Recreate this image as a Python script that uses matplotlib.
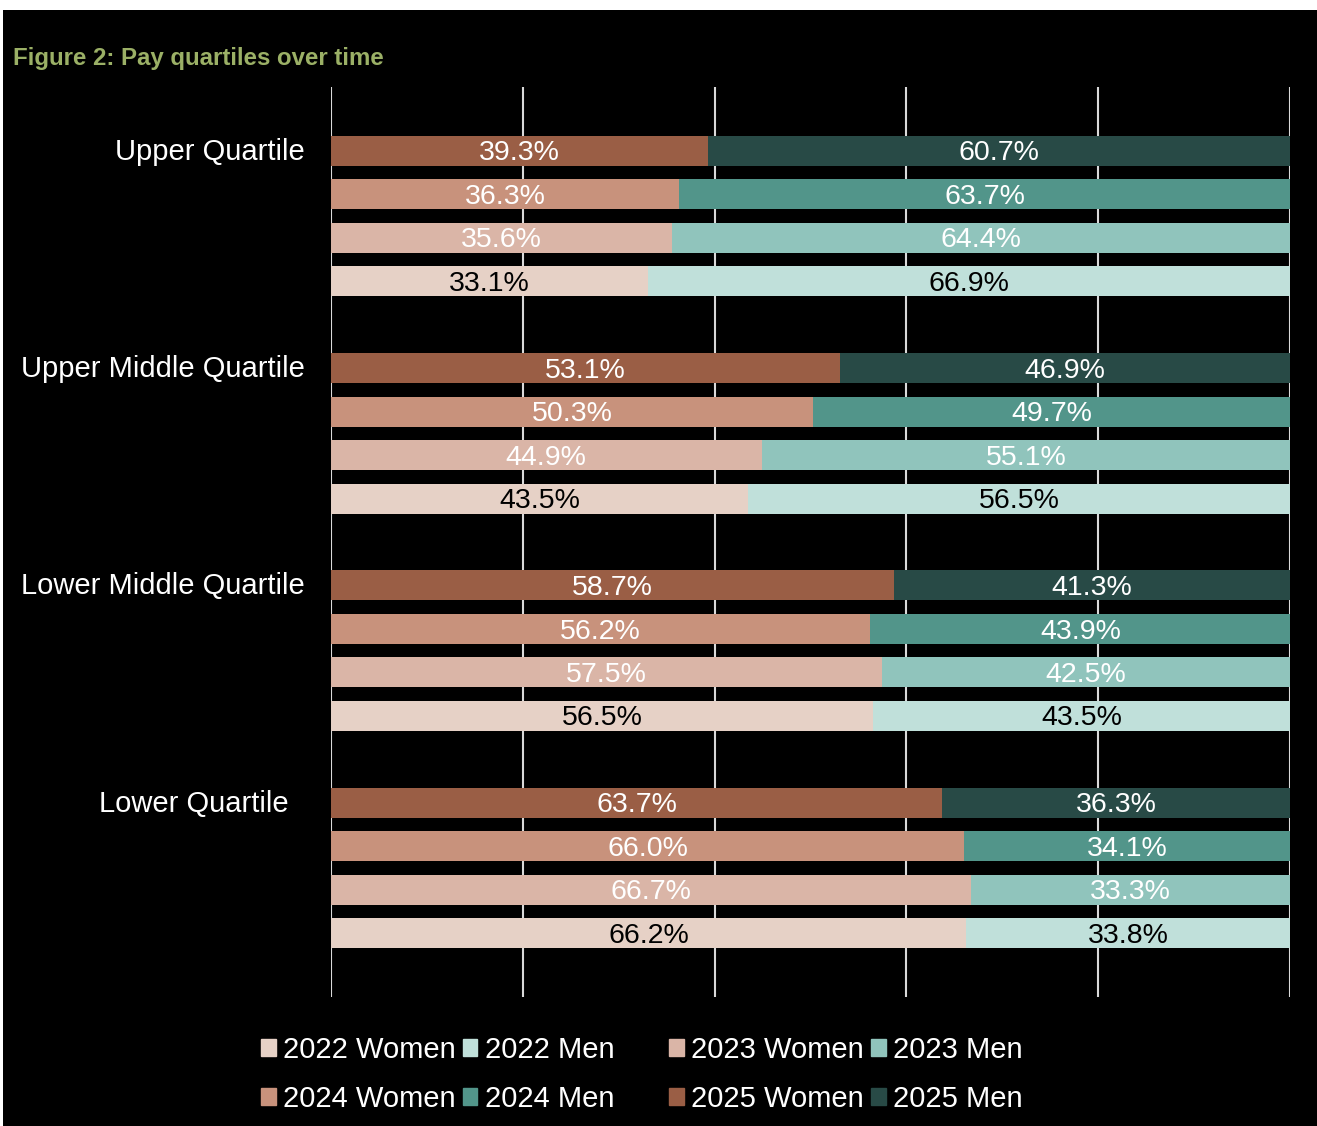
import matplotlib
matplotlib.use("Agg")
import matplotlib.pyplot as plt
from matplotlib.patches import Rectangle, Patch

plt.rcParams['font.family'] = ['Liberation Sans', 'DejaVu Sans']

quartiles = ["Upper Quartile", "Upper Middle Quartile", "Lower Middle Quartile", "Lower Quartile"]
years = ["2025", "2024", "2023", "2022"]  # top to bottom inside each group
women = {
    "2025": [39.3, 53.1, 58.7, 63.7],
    "2024": [36.3, 50.3, 56.2, 66.0],
    "2023": [35.6, 44.9, 57.5, 66.7],
    "2022": [33.1, 43.5, 56.5, 66.2],
}
men = {
    "2025": [60.7, 46.9, 41.3, 36.3],
    "2024": [63.7, 49.7, 43.9, 34.1],
    "2023": [64.4, 55.1, 42.5, 33.3],
    "2022": [66.9, 56.5, 43.5, 33.8],
}
women_col = {"2025": "#9A5E45", "2024": "#C8927C", "2023": "#DAB5A7", "2022": "#E6D1C6"}
men_col = {"2025": "#284A46", "2024": "#52958A", "2023": "#90C4BC", "2022": "#C0E0DA"}
label_col = {"2025": "white", "2024": "white", "2023": "white", "2022": "black"}

fig = plt.figure(figsize=(13.17, 11.26), dpi=100, facecolor="white")
fig.patches.append(Rectangle((3 / 1317, 0), 1, 1 - 10 / 1126, transform=fig.transFigure,
                             facecolor="black", edgecolor="none", zorder=-5))

ax = fig.add_axes([331 / 1317, 1 - 997 / 1126, 959 / 1317, 910 / 1126])
ax.set_facecolor("black")

for g, q in enumerate(quartiles):
    for k, yr in enumerate(years):
        y = g * 5 + k
        w = women[yr][g]
        m = men[yr][g]
        ax.barh(y, w, height=0.69, color=women_col[yr], zorder=2)
        ax.barh(y, m, left=w, height=0.69, color=men_col[yr], zorder=2)
        ax.text(w / 2, y + 0.06, f"{w:.1f}%", ha="center", va="center", fontsize=20.5,
                color=label_col[yr], zorder=3)
        ax.text(w + m / 2, y + 0.06, f"{m:.1f}%", ha="center", va="center", fontsize=20.5,
                color=label_col[yr], zorder=3)
    xlab = -4.4 if q == "Lower Quartile" else -2.7
    ax.text(xlab, g * 5 + 0.02, q, ha="right", va="center", fontsize=21, color="white",
            clip_on=False)

ax.set_xlim(0, 100)
ax.set_ylim(19.47, -1.47)
ax.set_xticks([0, 20, 40, 60, 80, 100])
ax.grid(axis="x", color="#D9D9D9", linewidth=1.5, zorder=1)
ax.set_axisbelow(True)
ax.tick_params(left=False, bottom=False, labelleft=False, labelbottom=False)
for s in ax.spines.values():
    s.set_visible(False)

fig.text(13 / 1317, 1 - 58 / 1126, "Figure 2: Pay quartiles over time", fontsize=17.3,
         fontweight="bold", color="#9BB066", ha="left", va="center")

# two legend blocks, each 2 rows x 2 columns
for yrs, x0 in [(["2022", "2024"], 261 / 1317), (["2023", "2025"], 669 / 1317)]:
    handles = []
    for yr in yrs:
        handles.append(Patch(color=women_col[yr], label=f"{yr} Women"))
    for yr in yrs:
        handles.append(Patch(color=men_col[yr], label=f"{yr} Men"))
    leg = fig.legend(handles=handles, ncol=2, loc="center left",
                     bbox_to_anchor=(x0, 1 - 1074.5 / 1126), frameon=False, fontsize=21,
                     handlelength=0.5, handleheight=0.5, handletextpad=0.25,
                     columnspacing=0.25, labelspacing=0.72, borderpad=0, borderaxespad=0)
    for t in leg.get_texts():
        t.set_color("white")

fig.savefig("out.png", dpi=100, facecolor="white")
